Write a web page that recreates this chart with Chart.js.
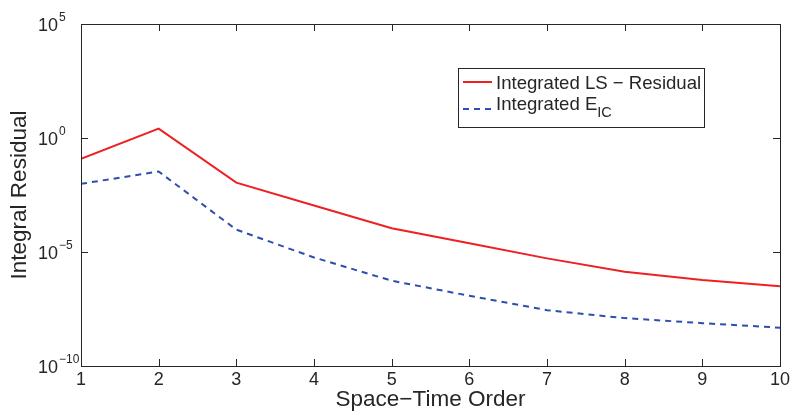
<!DOCTYPE html>
<html>
<head>
<meta charset="utf-8">
<script src="https://cdn.jsdelivr.net/npm/chart.js@4/dist/chart.umd.min.js"></script>
<style>
html,body{margin:0;padding:0;background:#fff;}
#wrap{width:793px;height:412px;position:relative;}
</style>
</head>
<body>
<div id="wrap"><canvas id="c" width="793" height="412"></canvas></div>
<script>
// Data
const orders = [1, 2, 3, 4, 5, 6, 7, 8, 9, 10];
const lsResidualLog10 = [-0.91, 0.41, -1.96, -2.96, -3.96, -4.62, -5.28, -5.87, -6.23, -6.5];
const eicLog10 = [-2.01, -1.47, -4.02, -5.24, -6.26, -6.92, -7.55, -7.9, -8.12, -8.32];
const lsResidual = lsResidualLog10.map(v => Math.pow(10, v));
const eicResidual = eicLog10.map(v => Math.pow(10, v));
const yTickExponents = [5, 0, -5, -10];
const xTicks = [1, 2, 3, 4, 5, 6, 7, 8, 9, 10];
const seriesNames = ['Integrated LS \u2212 Residual', 'Integrated E'];
const seriesSub = ['', 'IC'];
const xTitle = 'Space\u2212Time Order';
const yTitle = 'Integral Residual';

const FONT = 'Liberation Sans, Arial, Helvetica, sans-serif';
const RED = 'rgb(238,32,36)';
const BLUE = 'rgb(44,78,172)';

const framePlugin = {
  id: 'frame',
  afterDraw(chart) {
    const ctx = chart.ctx;
    const a = chart.chartArea;
    const xs = chart.scales.x, ys = chart.scales.y;
    ctx.save();
    ctx.strokeStyle = '#262626';
    ctx.lineWidth = 1;
    ctx.strokeRect(Math.round(a.left) + 0.5, Math.round(a.top) + 0.5, Math.round(a.right - a.left), Math.round(a.bottom - a.top));
    const tl = 7;
    ctx.beginPath();
    xs.ticks.forEach(t => {
      const px = Math.round(xs.getPixelForValue(t.value)) + 0.5;
      ctx.moveTo(px, a.bottom); ctx.lineTo(px, a.bottom - tl);
      ctx.moveTo(px, a.top); ctx.lineTo(px, a.top + tl);
    });
    ys.ticks.forEach(t => {
      const py = Math.round(ys.getPixelForValue(t.value)) + 0.5;
      ctx.moveTo(a.left, py); ctx.lineTo(a.left + tl, py);
      ctx.moveTo(a.right, py); ctx.lineTo(a.right - tl, py);
    });
    ctx.stroke();

    // x tick labels
    ctx.fillStyle = '#262626';
    ctx.font = '18px ' + FONT;
    ctx.textAlign = 'center';
    ctx.textBaseline = 'middle';
    xs.ticks.forEach(t => {
      const px = xs.getPixelForValue(t.value);
      ctx.fillText(String(t.value), px, a.bottom + 14);
    });
    // y tick labels with superscript exponents
    ys.ticks.forEach(t => {
      const py = ys.getPixelForValue(t.value);
      const e = Math.round(Math.log10(t.value));
      ctx.font = '18px ' + FONT;
      ctx.textAlign = 'left';
      ctx.textBaseline = 'alphabetic';
      const bx = 38;
      ctx.fillText('10', bx, py + 7);
      const w = ctx.measureText('10').width;
      ctx.font = '12px ' + FONT;
      ctx.fillText(e < 0 ? '\u2212' + Math.abs(e) : String(e), bx + w + 1, py - 3);
    });

    // Axis titles
    ctx.font = '22.5px ' + FONT;
    ctx.textAlign = 'center';
    ctx.textBaseline = 'middle';
    ctx.fillText(xTitle, (a.left + a.right) / 2, 400);
    ctx.save();
    ctx.translate(20, (a.top + a.bottom) / 2);
    ctx.rotate(-Math.PI / 2);
    ctx.fillText(yTitle, 0, 0);
    ctx.restore();

    // Legend
    const lx = 458, ly = 68, lw = 246, lh = 59;
    ctx.fillStyle = '#fff';
    ctx.fillRect(lx, ly, lw, lh);
    ctx.strokeStyle = '#262626';
    ctx.strokeRect(lx + 0.5, ly + 0.5, lw, lh);
    const rows = [82, 109];
    chart.data.datasets.forEach((ds, i) => {
      const y = rows[i];
      ctx.strokeStyle = ds.borderColor;
      ctx.lineWidth = 2;
      ctx.setLineDash(ds.borderDash || []);
      ctx.beginPath();
      ctx.moveTo(463, y); ctx.lineTo(492, y);
      ctx.stroke();
      ctx.setLineDash([]);
      ctx.fillStyle = '#262626';
      ctx.font = '18.6px ' + FONT;
      ctx.textAlign = 'left';
      ctx.textBaseline = 'alphabetic';
      const ty = i === 0 ? 89 : 110;
      ctx.fillText(seriesNames[i], 496, ty);
      if (seriesSub[i]) {
        const w = ctx.measureText(seriesNames[i]).width;
        ctx.font = '14.5px ' + FONT;
        ctx.fillText(seriesSub[i], 496 + w, ty + 7);
      }
    });
    ctx.restore();
  }
};

new Chart(document.getElementById('c'), {
  type: 'line',
  data: {
    datasets: [
      {
        label: seriesNames[0],
        data: orders.map((x, i) => ({x: x, y: lsResidual[i]})),
        borderColor: RED,
        borderWidth: 2,
        pointRadius: 0,
        tension: 0,
        fill: false
      },
      {
        label: seriesNames[1] + seriesSub[1],
        data: orders.map((x, i) => ({x: x, y: eicResidual[i]})),
        borderColor: BLUE,
        borderWidth: 2,
        borderDash: [6, 5],
        pointRadius: 0,
        tension: 0,
        fill: false
      }
    ]
  },
  plugins: [framePlugin],
  options: {
    responsive: false,
    animation: false,
    devicePixelRatio: 1,
    layout: {padding: {top: 24, right: 13, left: 0, bottom: 0}},
    plugins: {legend: {display: false}, tooltip: {enabled: false}},
    scales: {
      x: {
        type: 'linear',
        min: 1, max: 10,
        grid: {display: false},
        border: {display: false},
        ticks: {display: false},
        afterBuildTicks(scale) { scale.ticks = xTicks.map(v => ({value: v})); },
        afterFit(scale) { scale.height = 46; }
      },
      y: {
        type: 'logarithmic',
        min: 1e-10, max: 1e5,
        grid: {display: false},
        border: {display: false},
        ticks: {display: false},
        afterBuildTicks(scale) { scale.ticks = yTickExponents.map(e => ({value: Math.pow(10, e)})); },
        afterFit(scale) { scale.width = 81; }
      }
    }
  }
});
</script>
</body>
</html>
